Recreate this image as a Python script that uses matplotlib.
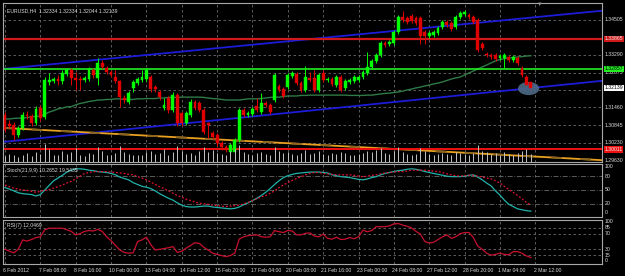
import matplotlib.pyplot as plt
import matplotlib.patches as mpatches
import matplotlib.transforms as mtransforms
import numpy as np

plt.rcParams['font.family'] = ['Liberation Sans', 'DejaVu Sans']

# EURUSD H4, 6 Feb 2012 .. 2 Mar 2012 (one entry per bar)
opens = [1.3120, 1.3088, 1.3085, 1.3050, 1.3074, 1.3120, 1.3116, 1.3092, 1.3144, 1.3113,
         1.3235, 1.3238, 1.3245, 1.3238, 1.3262, 1.3276, 1.3249, 1.3245, 1.3242, 1.3245,
         1.3276, 1.3249, 1.3301, 1.3283, 1.3269, 1.3252, 1.3238, 1.3179, 1.3165, 1.3214,
         1.3231, 1.3242, 1.3245, 1.3252, 1.3217, 1.3200, 1.3144, 1.3179, 1.3137, 1.3189,
         1.3127, 1.3092, 1.3120, 1.3165, 1.3162, 1.3137, 1.3092, 1.3057, 1.3050, 1.3022,
         1.3008, 1.2991, 1.2991, 1.3033, 1.3137, 1.3120, 1.3123, 1.3151, 1.3130, 1.3162,
         1.3155, 1.3172, 1.3221, 1.3210, 1.3217, 1.3256, 1.3262, 1.3231, 1.3207, 1.3249,
         1.3249, 1.3207, 1.3266, 1.3242, 1.3245, 1.3224, 1.3252, 1.3214, 1.3235, 1.3238,
         1.3242, 1.3252, 1.3266, 1.3287, 1.3308, 1.3329, 1.3370, 1.3367, 1.3370, 1.3409,
         1.3461, 1.3457, 1.3464, 1.3457, 1.3457, 1.3409, 1.3395, 1.3398, 1.3405, 1.3426,
         1.3443, 1.3440, 1.3426, 1.3461, 1.3471, 1.3468, 1.3461, 1.3450, 1.3367, 1.3332,
         1.3329, 1.3329, 1.3318, 1.3318, 1.3322, 1.3311, 1.3318, 1.3283, 1.3252, 1.32334]
highs = [1.3130, 1.3102, 1.3095, 1.3081, 1.3130, 1.3134, 1.3123, 1.3151, 1.3155, 1.3252,
         1.3266, 1.3252, 1.3259, 1.3276, 1.3283, 1.3283, 1.3269, 1.3256, 1.3256, 1.3287,
         1.3283, 1.3318, 1.3311, 1.3290, 1.3276, 1.3276, 1.3242, 1.3189, 1.3203, 1.3242,
         1.3252, 1.3276, 1.3283, 1.3259, 1.3224, 1.3207, 1.3179, 1.3186, 1.3200, 1.3196,
         1.3134, 1.3134, 1.3176, 1.3172, 1.3169, 1.3144, 1.3095, 1.3064, 1.3057, 1.3029,
         1.3015, 1.3022, 1.3040, 1.3144, 1.3144, 1.3134, 1.3148, 1.3179, 1.3196, 1.3169,
         1.3162, 1.3266, 1.3228, 1.3217, 1.3266, 1.3273, 1.3269, 1.3238, 1.3290, 1.3269,
         1.3276, 1.3266, 1.3276, 1.3252, 1.3252, 1.3259, 1.3259, 1.3245, 1.3249, 1.3259,
         1.3259, 1.3276, 1.3339, 1.3315, 1.3336, 1.3377, 1.3377, 1.3381, 1.3416, 1.3468,
         1.3482, 1.3464, 1.3471, 1.3464, 1.3464, 1.3416, 1.3412, 1.3416, 1.3430, 1.3450,
         1.3450, 1.3447, 1.3468, 1.3482, 1.3485, 1.3475, 1.3468, 1.3457, 1.3374, 1.3339,
         1.3336, 1.3336, 1.3332, 1.3336, 1.3329, 1.3329, 1.3325, 1.3290, 1.3259, 1.32334]
lows = [1.3061, 1.3074, 1.3033, 1.3043, 1.3068, 1.3106, 1.3081, 1.3085, 1.3099, 1.3106,
        1.3224, 1.3231, 1.3224, 1.3228, 1.3256, 1.3224, 1.3207, 1.3207, 1.3235, 1.3238,
        1.3249, 1.3224, 1.3280, 1.3262, 1.3252, 1.3231, 1.3148, 1.3162, 1.3158, 1.3200,
        1.3224, 1.3235, 1.3238, 1.3200, 1.3200, 1.3172, 1.3137, 1.3127, 1.3130, 1.3081,
        1.3081, 1.3085, 1.3113, 1.3137, 1.3130, 1.3054, 1.3040, 1.3036, 1.3012, 1.2998,
        1.2991, 1.2984, 1.2988, 1.3026, 1.3113, 1.3113, 1.3116, 1.3130, 1.3123, 1.3148,
        1.3123, 1.3165, 1.3200, 1.3179, 1.3210, 1.3249, 1.3224, 1.3200, 1.3200, 1.3235,
        1.3200, 1.3200, 1.3235, 1.3235, 1.3221, 1.3217, 1.3200, 1.3207, 1.3228, 1.3231,
        1.3235, 1.3245, 1.3259, 1.3280, 1.3301, 1.3322, 1.3356, 1.3360, 1.3363, 1.3402,
        1.3443, 1.3436, 1.3440, 1.3433, 1.3367, 1.3367, 1.3388, 1.3391, 1.3398, 1.3419,
        1.3426, 1.3412, 1.3419, 1.3454, 1.3464, 1.3454, 1.3436, 1.3339, 1.3346, 1.3322,
        1.3315, 1.3308, 1.3311, 1.3283, 1.3304, 1.3304, 1.3294, 1.3252, 1.3217, 1.32044]
closes = [1.3068, 1.3081, 1.3050, 1.3074, 1.3120, 1.3116, 1.3092, 1.3141, 1.3109, 1.3242,
          1.3242, 1.3245, 1.3238, 1.3266, 1.3276, 1.3249, 1.3242, 1.3242, 1.3249, 1.3280,
          1.3259, 1.3301, 1.3287, 1.3269, 1.3259, 1.3238, 1.3182, 1.3172, 1.3196, 1.3235,
          1.3245, 1.3252, 1.3276, 1.3210, 1.3210, 1.3182, 1.3155, 1.3137, 1.3189, 1.3092,
          1.3092, 1.3127, 1.3165, 1.3144, 1.3137, 1.3061, 1.3085, 1.3043, 1.3022, 1.3008,
          1.2998, 1.3015, 1.3033, 1.3137, 1.3120, 1.3127, 1.3141, 1.3137, 1.3162, 1.3155,
          1.3130, 1.3259, 1.3207, 1.3186, 1.3259, 1.3266, 1.3231, 1.3207, 1.3252, 1.3242,
          1.3207, 1.3259, 1.3242, 1.3245, 1.3228, 1.3252, 1.3207, 1.3238, 1.3242, 1.3252,
          1.3252, 1.3269, 1.3287, 1.3308, 1.3329, 1.3370, 1.3363, 1.3374, 1.3409, 1.3461,
          1.3450, 1.3443, 1.3447, 1.3440, 1.3395, 1.3395, 1.3405, 1.3409, 1.3423, 1.3443,
          1.3433, 1.3419, 1.3461, 1.3475, 1.3478, 1.3461, 1.3443, 1.3346, 1.3353, 1.3329,
          1.3322, 1.3315, 1.3325, 1.3329, 1.3311, 1.3322, 1.3301, 1.3259, 1.3224, 1.32139]
volumes = [30, 45, 35, 25, 40, 50, 30, 55, 45, 95, 70, 40, 35, 60, 45, 55, 75, 40, 30, 50,
           45, 80, 60, 40, 35, 50, 85, 55, 45, 40, 35, 40, 55, 60, 45, 50, 70, 40, 55, 85,
           60, 45, 50, 40, 60, 80, 55, 65, 50, 45, 40, 60, 70, 90, 55, 45, 40, 50, 55, 45,
           40, 80, 60, 50, 55, 45, 40, 50, 65, 45, 50, 60, 45, 40, 50, 45, 55, 50, 40, 35,
           45, 50, 60, 55, 65, 75, 50, 45, 60, 80, 55, 45, 40, 45, 75, 60, 45, 40, 45, 50,
           45, 40, 55, 50, 45, 40, 50, 90, 60, 55, 45, 50, 40, 55, 45, 40, 50, 60, 70, 45]
ma_line = [1.3106, 1.3106, 1.3108, 1.3109, 1.3109, 1.3111, 1.3113, 1.3115, 1.3116, 1.3123,
           1.3130, 1.3135, 1.3141, 1.3144, 1.3148, 1.3149, 1.3155, 1.3160, 1.3163, 1.3167,
           1.3169, 1.3172, 1.3172, 1.3174, 1.3174, 1.3176, 1.3176, 1.3174, 1.3174, 1.3174,
           1.3176, 1.3176, 1.3177, 1.3177, 1.3177, 1.3179, 1.3179, 1.3181, 1.3181, 1.3181,
           1.3182, 1.3182, 1.3182, 1.3182, 1.3182, 1.3181, 1.3179, 1.3177, 1.3176, 1.3174,
           1.3172, 1.3172, 1.3172, 1.3172, 1.3174, 1.3176, 1.3176, 1.3176, 1.3177, 1.3179,
           1.3181, 1.3182, 1.3182, 1.3184, 1.3186, 1.3186, 1.3186, 1.3188, 1.3188, 1.3189,
           1.3189, 1.3189, 1.3189, 1.3189, 1.3189, 1.3189, 1.3189, 1.3189, 1.3188, 1.3188,
           1.3188, 1.3188, 1.3189, 1.3189, 1.3191, 1.3193, 1.3195, 1.3196, 1.3198, 1.3200,
           1.3203, 1.3207, 1.3210, 1.3214, 1.3217, 1.3221, 1.3224, 1.3228, 1.3231, 1.3235,
           1.3240, 1.3245, 1.3249, 1.3252, 1.3259, 1.3266, 1.3273, 1.3280, 1.3287, 1.3294,
           1.3301, 1.3308, 1.3313, 1.3316, 1.3318, 1.3320, 1.3322, 1.3323, 1.3325, 1.3326]
stoch_main = [55, 52, 48, 44, 42, 41, 40, 37, 40, 50, 60, 70, 76, 82, 89, 93, 96, 96, 95, 93,
              92, 90, 89, 88, 86, 83, 78, 75, 72, 66, 62, 58, 56, 53, 48, 42, 37, 32, 28, 22,
              17, 14, 13, 13, 14, 15, 15, 13, 12, 11, 10, 9, 10, 13, 18, 22, 27, 32, 38, 45,
              53, 62, 70, 77, 81, 84, 86, 87, 88, 89, 89, 89, 88, 87, 83, 81, 79, 78, 77, 75,
              73, 72, 74, 77, 79, 83, 86, 88, 90, 92, 93, 95, 96, 95, 93, 90, 88, 86, 84, 82,
              80, 79, 79, 79, 80, 82, 83, 78, 72, 65, 59, 48, 39, 28, 19, 14, 9, 7, 5, 4]
stoch_signal = [61, 57, 54, 52, 50, 49, 47, 45, 47, 49, 51, 54, 57, 61, 65, 69, 74, 80, 86, 88,
                90, 90, 90, 90, 89, 88, 87, 86, 84, 83, 79, 76, 72, 67, 62, 57, 53, 48, 43, 38,
                34, 30, 27, 24, 21, 20, 19, 17, 16, 15, 14, 15, 16, 17, 20, 23, 27, 31, 35, 38,
                43, 48, 55, 61, 66, 71, 75, 79, 83, 86, 88, 88, 86, 85, 84, 83, 83, 83, 83, 82,
                80, 79, 80, 82, 83, 85, 87, 88, 89, 90, 90, 91, 93, 93, 93, 93, 92, 91, 90, 88,
                85, 83, 81, 80, 81, 82, 82, 80, 78, 76, 74, 70, 65, 58, 51, 45, 38, 31, 23, 17]
rsi = [30, 25, 21, 30, 54, 51, 55, 60, 62, 80, 84, 84, 84, 84, 80, 76, 67, 70, 76, 78,
       77, 81, 76, 62, 52, 40, 28, 22, 20, 21, 50, 54, 61, 42, 28, 30, 32, 34, 37, 22,
       25, 33, 40, 47, 45, 35, 28, 20, 17, 14, 11, 14, 20, 56, 62, 65, 66, 67, 62, 61,
       62, 78, 75, 73, 78, 77, 67, 67, 71, 72, 64, 62, 69, 58, 56, 61, 55, 56, 60, 57,
       62, 79, 75, 78, 88, 88, 88, 90, 95, 96, 92, 89, 85, 76, 69, 50, 46, 48, 55, 62,
       67, 58, 62, 70, 73, 73, 60, 38, 30, 20, 15, 17, 20, 17, 16, 24, 24, 20, 13, 9]

date_labels = ['6 Feb 2012', '7 Feb 08:00', '8 Feb 16:00', '10 Feb 00:00', '13 Feb 04:00',
               '14 Feb 12:00', '15 Feb 20:00', '17 Feb 04:00', '20 Feb 08:00', '21 Feb 16:00',
               '23 Feb 00:00', '24 Feb 08:00', '27 Feb 12:00', '28 Feb 20:00', '1 Mar 04:00',
               '2 Mar 12:00']

# trend lines: (bar, price) anchor pairs
upper_channel = [(-0.45, 1.3280), (134.6, 1.3482)]
lower_channel = [(-0.45, 1.3026), (134.6, 1.3238)]
orange_line = [(-0.45, 1.3075), (134.6, 1.2963)]
resist_level = 1.3385
green_level = 1.3280
support_level = 1.3000

price_ticks = [1.34505, 1.33290, 1.32675, 1.31460, 1.30845, 1.30230, 1.29630]
grid_prices = [1.34505, 1.33890, 1.33290, 1.32675, 1.32060, 1.31460, 1.30845, 1.30230]

BG = 'black'
GRID = '#6a6a6a'
TXT = '#dcdcdc'
BULL = '#00ff00'
BEAR = '#e00000'
FS = 3.7

fig = plt.figure(figsize=(6.25, 2.76), dpi=100, facecolor=BG)
ax = fig.add_axes([0.0048, 0.4130, 0.9584, 0.5761], facecolor=BG)
ax_st = fig.add_axes([0.0048, 0.2138, 0.9584, 0.1920], facecolor=BG)
ax_rsi = fig.add_axes([0.0048, 0.0435, 0.9584, 0.1594], facecolor=BG)

n = len(closes)
idx = np.arange(n)
x_lim = (-0.45, 135.1)
vgrid = list(range(0, 121, 8))

for a in (ax, ax_st, ax_rsi):
    a.set_xlim(*x_lim)
    a.set_xticks([])
    a.set_yticks([])
    for s in a.spines.values():
        s.set_color('#a8a8a8')
        s.set_linewidth(0.8)
    for v in vgrid:
        a.axvline(v, color=GRID, lw=0.6, ls=(0, (3, 3)), zorder=0)

# --- main price window
ax.set_ylim(1.29562, 1.35096)
for p in grid_prices:
    ax.axhline(p, color=GRID, lw=0.6, ls=(0, (3, 3)), zorder=0)

# volumes along the bottom
axv = ax.twinx()
axv.set_ylim(0, 850)
axv.set_xlim(*x_lim)
axv.axis('off')
axv.vlines(idx, 0, volumes, color='#c4c4c4', lw=0.7)

o = np.array(opens)
c = np.array(closes)
up = c >= o
cols = np.where(up, BULL, BEAR)
ax.vlines(idx, lows, highs, colors=cols, lw=0.7, zorder=3)
body = np.where(np.abs(c - o) < 0.00012, 0.00012, c - o)
ax.bar(idx, body, bottom=o, width=0.64, color=cols, edgecolor=cols, lw=0.3, zorder=4)

ax.plot(idx, ma_line, color='#2f7a46', lw=1.0, zorder=2)

for pts in (upper_channel, lower_channel):
    ax.axline(pts[0], pts[1], color='#1c1cd8', lw=1.3, zorder=2)
ax.axline(orange_line[0], orange_line[1], color='#e8a020', lw=1.3, zorder=2)
ax.axline(orange_line[0], orange_line[1], color='#8a6420', lw=1.3, zorder=2,
          ls=(0, (6, 10)))

ax.axhline(resist_level, color='#d01818', lw=1.6, zorder=2)
ax.axhline(green_level, color='#22ee22', lw=1.2, zorder=2)
ax.axhline(support_level, color='#ee1010', lw=1.4, zorder=2)

ell = mpatches.Ellipse((118.5, 1.3212), 4.8, 0.0046, facecolor='#4d6a86', edgecolor='none',
                       alpha=0.9, zorder=3)
ax.add_patch(ell)

ax.text(0.006, 0.965, 'EURUSD,H4  1.32334 1.32334 1.32044 1.32139', transform=ax.transAxes,
        color=TXT, fontsize=FS, va='top', ha='left')
ax.text(121, 1.3504, '\u25bc', color='#9a9a9a', fontsize=4, ha='center', va='center')

trans = mtransforms.blended_transform_factory(ax.transAxes, ax.transData)
for p in price_ticks:
    ax.text(1.004, p, f'{p:.5f}', transform=trans, color=TXT, fontsize=FS,
            va='center', ha='left', clip_on=False)
for p, lab, fc, tc in [(resist_level, '1.33865', '#d01818', '#f0f0f0'),
                       (green_level, '1.32857', '#22ee22', '#000000'),
                       (closes[-1], '1.32139', '#ffffff', '#000000'),
                       (support_level, '1.30011', '#ee1010', '#f0f0f0')]:
    ax.text(1.004, p, lab, transform=trans, color=tc, fontsize=FS, va='center', ha='left',
            clip_on=False, bbox=dict(boxstyle='square,pad=0.15', fc=fc, ec='none'))

# --- stochastic window
ax_st.set_ylim(-8.7, 106.5)
for lvl in (80, 50, 20):
    ax_st.axhline(lvl, color=GRID, lw=0.6, ls=(0, (6, 2, 1, 2)), zorder=0)
ax_st.plot(idx, stoch_main, color='#20b2aa', lw=0.9)
ax_st.plot(idx, stoch_signal, color='#e01030', lw=0.9, ls=(0, (1.5, 1.5)))
ax_st.text(0.006, 0.93, 'Stoch(21,9,9) 10.2652 19.5435', transform=ax_st.transAxes,
           color=TXT, fontsize=FS, va='top', ha='left')
trans = mtransforms.blended_transform_factory(ax_st.transAxes, ax_st.transData)
for lvl in (100, 80, 50, 20, 0):
    ax_st.text(1.004, lvl, str(lvl), transform=trans, color=TXT, fontsize=FS,
               va='center', ha='left', clip_on=False)

# --- RSI window
ax_rsi.set_ylim(-7.7, 105.1)
for lvl in (85, 70, 30, 15):
    ax_rsi.axhline(lvl, color=GRID, lw=0.6, ls=(0, (3, 3)), zorder=0)
ax_rsi.plot(idx, rsi, color='#c8102e', lw=0.9)
ax_rsi.text(0.006, 0.93, 'RSI(7) 12.0469', transform=ax_rsi.transAxes,
            color=TXT, fontsize=FS, va='top', ha='left')
trans = mtransforms.blended_transform_factory(ax_rsi.transAxes, ax_rsi.transData)
for lvl in (100, 85, 70, 30, 15, 0):
    ax_rsi.text(1.004, lvl, str(lvl), transform=trans, color=TXT, fontsize=FS,
                va='center', ha='left', clip_on=False)

date_trans = mtransforms.blended_transform_factory(ax_rsi.transData, ax_rsi.transAxes)
for i, lab in zip(vgrid, date_labels):
    ax_rsi.text(i - 0.4, -0.08, lab, transform=date_trans, color=TXT, fontsize=FS,
                va='top', ha='left', clip_on=False)

fig.savefig('out.png', dpi=100, facecolor=BG)
